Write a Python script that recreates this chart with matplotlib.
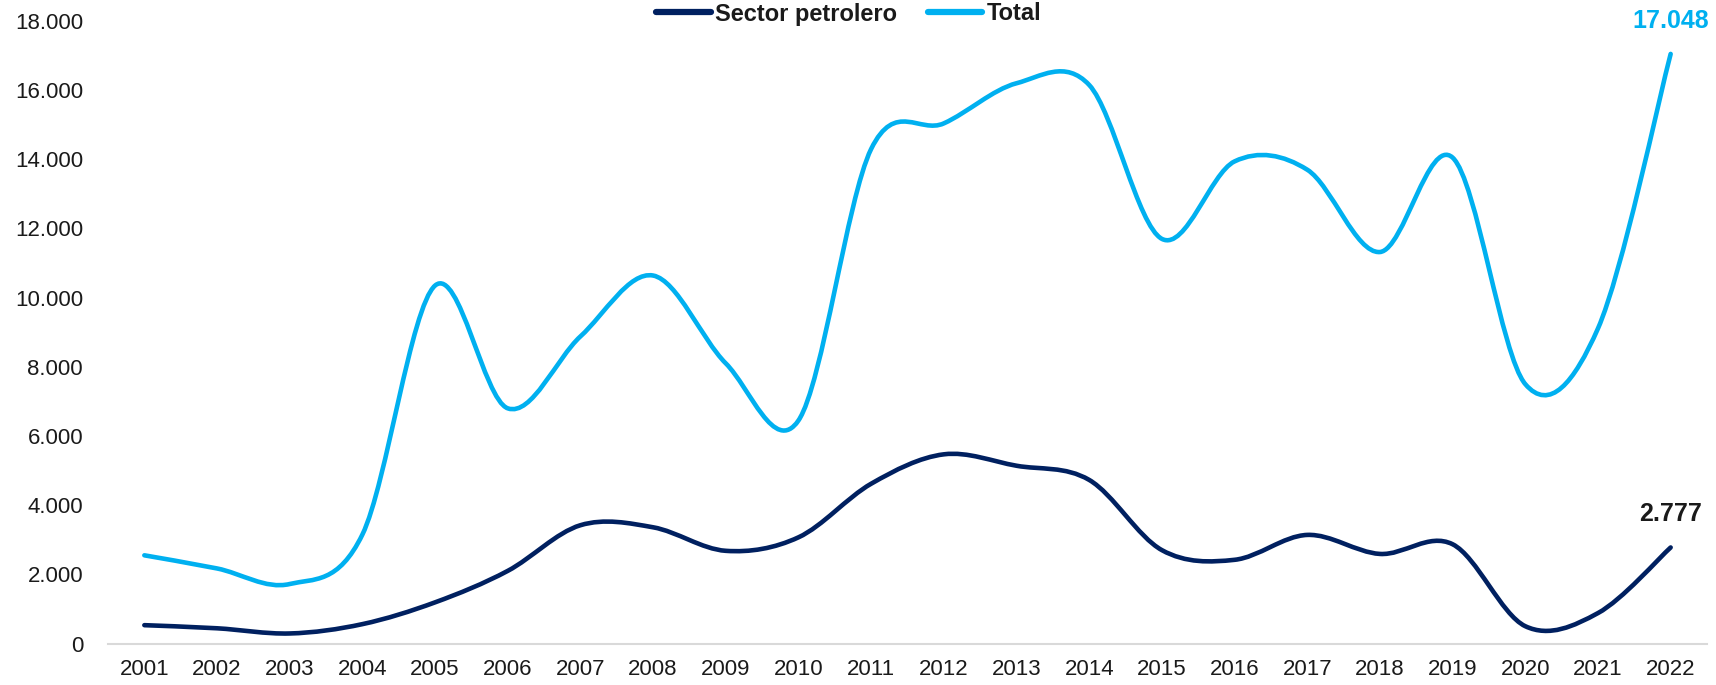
import matplotlib

matplotlib.use("Agg")
import matplotlib.pyplot as plt
from matplotlib.lines import Line2D
from matplotlib.patches import PathPatch
from matplotlib.path import Path
from matplotlib.ticker import FuncFormatter

years = list(range(2001, 2023))
sector_petrolero = [530, 440, 290, 560, 1190, 2100, 3420, 3360, 2680, 3070, 4620,
                    5470, 5140, 4730, 2700, 2420, 3140, 2590, 2870, 500, 880, 2777]
total = [2550, 2170, 1720, 3150, 10350, 6800, 8880, 10640, 8100, 6450, 14300,
         15040, 16200, 16150, 11700, 13940, 13700, 11320, 14050, 7500, 9110, 17048]
labels = ["Sector petrolero", "Total"]
colors = ["#002060", "#00B0F0"]


def smooth_path(xs, ys):
    """Excel-like smoothed line: Catmull-Rom segments as cubic Beziers."""
    pts = list(zip(xs, ys))
    n = len(pts)
    verts = [pts[0]]
    codes = [Path.MOVETO]
    for i in range(n - 1):
        p0 = pts[i - 1] if i > 0 else pts[i]
        p1 = pts[i]
        p2 = pts[i + 1]
        p3 = pts[i + 2] if i + 2 < n else pts[i + 1]
        c1 = (p1[0] + (p2[0] - p0[0]) / 6, p1[1] + (p2[1] - p0[1]) / 6)
        c2 = (p2[0] - (p3[0] - p1[0]) / 6, p2[1] - (p3[1] - p1[1]) / 6)
        verts += [c1, c2, p2]
        codes += [Path.CURVE4] * 3
    return Path(verts, codes)


plt.rcParams["font.family"] = ["Liberation Sans", "DejaVu Sans"]

fig = plt.figure(figsize=(17.16, 6.85), dpi=100)
ax = fig.add_axes([108 / 1716, 1 - 643.5 / 685, (1707 - 108) / 1716, (643.5 - 21) / 685])

for series, color in zip([sector_petrolero, total], colors):
    ax.add_patch(PathPatch(smooth_path(years, series), fill=False, edgecolor=color,
                           lw=3.3, capstyle="round", joinstyle="round"))

ax.set_xlim(2000.5, 2022.5)
ax.set_ylim(0, 18000)
ax.set_xticks(years)
ax.set_yticks(range(0, 18001, 2000))
ax.yaxis.set_major_formatter(FuncFormatter(lambda v, _: f"{int(v):,}".replace(",", ".")))
ax.tick_params(axis="both", length=0, labelsize=16, colors="#1a1a1a")
ax.tick_params(axis="y", pad=18)
ax.tick_params(axis="x", pad=11)
for side in ["top", "right", "left"]:
    ax.spines[side].set_visible(False)
ax.spines["bottom"].set_color("#d9d9d9")
ax.spines["bottom"].set_linewidth(1.5)

# end labels
ax.text(years[-1], total[-1] + 950, f"{total[-1]:,}".replace(",", "."),
        ha="center", va="center", fontsize=18, fontweight="bold", color=colors[1])
ax.text(years[-1], sector_petrolero[-1] + 960, f"{sector_petrolero[-1]:,}".replace(",", "."),
        ha="center", va="center", fontsize=18, fontweight="bold", color="#1a1a1a")

handles = [Line2D([], [], color=c, lw=4.5, solid_capstyle="round") for c in colors]
leg = fig.legend(handles, labels, loc="center", bbox_to_anchor=(849 / 1716, 1 - 14 / 685),
                 ncol=2, frameon=False, handlelength=2.3, handletextpad=0.2,
                 columnspacing=1.3, borderpad=0, prop={"size": 17, "weight": "bold"})
for t in leg.get_texts():
    t.set_color("#1a1a1a")

fig.savefig("out.png", dpi=100)
